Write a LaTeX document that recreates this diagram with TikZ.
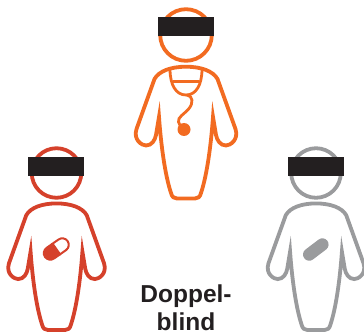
\documentclass[tikz,border=0pt]{standalone}
\usepackage{fontspec}
\setmainfont{Liberation Sans}
\definecolor{docorange}{HTML}{F26B21}
\definecolor{pillred}{HTML}{D5412B}
\definecolor{placebogray}{HTML}{9A9B9D}
\definecolor{barblack}{HTML}{231F20}
\tikzset{
  figline/.style={line width=3.8pt,line join=miter,miter limit=10,fill=white},
  censorbar/.style={fill=barblack,draw=none,minimum width=56pt,minimum height=19pt,inner sep=0pt},
  figlabel/.style={font=\bfseries\fontsize{24.5}{28}\selectfont,align=center,text=barblack,inner sep=0pt},
  pics/person/.style={code={
    \draw[figline,draw=#1] (0,0) circle (25.8);
    \draw[figline,draw=#1]
      (0,31.7) .. controls (-15,31.7) and (-27,36) .. (-31.5,44)
      -- (-49.5,94)
      .. controls (-53,105) and (-44,110.5) .. (-40,110.5)
      .. controls (-34,110.5) and (-31,105) .. (-30,100)
      -- (-27,82)
      .. controls (-25,110) and (-21,140) .. (-15,158)
      .. controls (-14,162) and (-12,163.5) .. (-9,163.5)
      -- (9,163.5)
      .. controls (12,163.5) and (14,162) .. (15,158)
      .. controls (21,140) and (25,110) .. (27,82)
      -- (30,100)
      .. controls (31,105) and (34,110.5) .. (40,110.5)
      .. controls (44,110.5) and (53,105) .. (49.5,94)
      -- (31.5,44)
      .. controls (27,36) and (15,31.7) .. (0,31.7) -- cycle;
  }}
}
\begin{document}
\begin{tikzpicture}[x=1pt,y=-1pt]
\useasboundingbox (0,0) rectangle (364,334);
% doctor
\pic at (186,35) {person=docorange};
\draw[draw=docorange,line width=2.8pt]
  (170,69) .. controls (170,85) and (176,95) .. (186,95)
  .. controls (196,95) and (202,85) .. (202,69);
\draw[draw=docorange,line width=2.6pt] (173,81.5) -- (199,81.5);
\draw[draw=docorange,line width=2.8pt]
  (187,95) .. controls (193,96) and (193.5,103) .. (189,108.5)
  .. controls (184,114.5) and (177.5,117) .. (178.5,122)
  .. controls (179,125) and (181,127) .. (184,129);
\fill[docorange] (184,129.5) circle (6.5);
\node[censorbar] (barA) at (186,26.5) {};
% patient
\pic[scale=0.96] at (56.5,173) {person=pillred};
\begin{scope}[shift={(56.3,249)},rotate=35]
\draw[pillred,line width=2pt,fill=white] (0,-6.5) -- (7.3,-6.5) arc (-90:90:6.5) -- (0,6.5) -- cycle;
\fill[pillred] (0,-7.5) -- (-7.3,-7.5) arc (-90:-270:7.5) -- (0,7.5) -- cycle;
\end{scope}
\node[censorbar] (barB) at (56,166.5) {};
% placebo
\pic[scale=0.96] at (316,173) {person=placebogray};
\draw[placebogray,line width=12.4pt,line cap=round] (309.2,254.5) -- (322.4,244.5);
\node[censorbar] (barC) at (316,166.5) {};
\node[figlabel] (label) at (186,307.5) {Doppel-\\blind};
\end{tikzpicture}
\end{document}
